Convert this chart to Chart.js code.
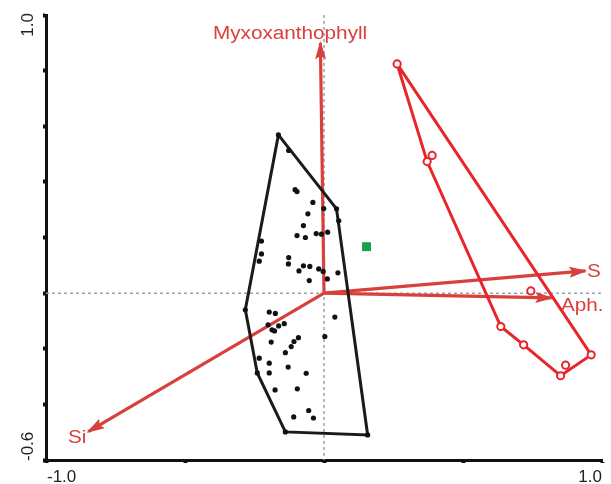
<!DOCTYPE html>
<html>
<head>
<meta charset="utf-8">
<script src="https://cdn.jsdelivr.net/npm/chart.js@4.4.1/dist/chart.umd.min.js"></script>
<style>
  html, body { margin: 0; padding: 0; background: #fff; }
  #wrap { width: 611px; height: 484px; }
</style>
</head>
<body>
<div id="wrap"><canvas id="myChart"></canvas></div>
<script>
// sample scores (black dots)
const sampleX = [-0.127, -0.104, -0.097, -0.040, -0.001, -0.058, 0.053, -0.074, -0.028, -0.009,
  0.013, -0.097, -0.067, -0.225, -0.225, -0.233, -0.127, -0.128, -0.074, -0.051,
  -0.090, -0.019, -0.003, 0.050, 0.012, -0.053, -0.197, -0.175, 0.039, -0.201,
  -0.187, -0.178, -0.163, -0.143, 0.003, -0.190, -0.092, -0.108, -0.118, -0.139,
  -0.233, -0.197, -0.129, -0.197, -0.064, -0.176, -0.096, -0.055, -0.109, -0.038,
  -0.164, 0.045, 0.157, -0.139, -0.240, -0.283];
const sampleY = [0.513, 0.372, 0.365, 0.326, 0.304, 0.285, 0.260, 0.243, 0.214, 0.212,
  0.219, 0.207, 0.200, 0.187, 0.141, 0.115, 0.128, 0.105, 0.098, 0.096,
  0.080, 0.087, 0.078, 0.073, 0.051, 0.045, -0.068, -0.073, -0.086, -0.114,
  -0.132, -0.136, -0.118, -0.110, -0.156, -0.176, -0.160, -0.174, -0.192, -0.214,
  -0.234, -0.252, -0.266, -0.287, -0.288, -0.348, -0.344, -0.422, -0.445, -0.449,
  0.569, 0.303, -0.510, -0.499, -0.287, -0.060];

// envelope of the black group
const hullX = [-0.164, 0.045, 0.157, -0.139, -0.240, -0.283, -0.164];
const hullY = [0.569, 0.303, -0.510, -0.499, -0.287, -0.060, 0.569];

// red group: open circles and envelope
const redX = [0.263, 0.389, 0.371, 0.636, 0.718, 0.851, 0.869, 0.961, 0.744];
const redY = [0.824, 0.495, 0.473, -0.120, -0.186, -0.297, -0.259, -0.222, 0.008];
const redHullX = [0.263, 0.371, 0.636, 0.718, 0.851, 0.961, 0.263];
const redHullY = [0.824, 0.473, -0.120, -0.186, -0.297, -0.222, 0.824];

// green square
const greenX = [0.153];
const greenY = [0.167];

// environmental arrows
const arrowNames = ['Myxoxanthophyll', 'S', 'Aph.', 'Si'];
const arrowX = [-0.013, 0.940, 0.818, -0.848];
const arrowY = [0.899, 0.080, -0.017, -0.498];

// axis tick labels
const xTickValues = [-1, 1];
const xTickLabels = ['-1.0', '1.0'];
const yTickValues = [-0.6, 1.0];
const yTickLabels = ['-0.6', '1.0'];

const arrowColor = '#d9403c';
const groupRed = '#e8252b';

const pts = (xs, ys) => xs.map((x, i) => ({ x: x, y: ys[i] }));

const datasets = [];
arrowNames.forEach((name, i) => {
  datasets.push({
    type: 'line', label: name, isArrow: true,
    data: [{ x: 0, y: 0 }, { x: arrowX[i], y: arrowY[i] }],
    borderColor: arrowColor, borderWidth: 3.2, pointRadius: 0, order: 6
  });
});
datasets.push({
  type: 'line', data: pts(hullX, hullY), borderColor: '#1b1b1b', borderWidth: 3,
  pointRadius: 0, tension: 0, order: 5
});
datasets.push({
  type: 'scatter', data: pts(sampleX, sampleY), backgroundColor: '#111',
  borderWidth: 0, pointRadius: 2.6, order: 4
});
datasets.push({
  type: 'line', data: pts(redHullX, redHullY), borderColor: groupRed, borderWidth: 3,
  pointRadius: 0, tension: 0, order: 3
});
datasets.push({
  type: 'scatter', data: pts(redX, redY), backgroundColor: '#fff',
  borderColor: groupRed, borderWidth: 2, pointRadius: 3.6, order: 2
});
datasets.push({
  type: 'scatter', data: pts(greenX, greenY), backgroundColor: '#15a24b',
  borderWidth: 0, pointStyle: 'rect', pointRadius: 6.3, order: 1
});

const biplotPlugin = {
  id: 'biplot',
  beforeDatasetsDraw(chart) {
    const { ctx, chartArea: a, scales: { x, y } } = chart;
    ctx.save();
    ctx.strokeStyle = '#9aa2ad';
    ctx.lineWidth = 1.5;
    ctx.setLineDash([3, 3]);
    const x0 = x.getPixelForValue(0), y0 = y.getPixelForValue(0);
    ctx.beginPath();
    ctx.moveTo(x0, a.top); ctx.lineTo(x0, a.bottom);
    ctx.moveTo(a.left, y0); ctx.lineTo(a.right, y0);
    ctx.stroke();
    ctx.restore();
  },
  afterDatasetDraw(chart, args) {
    const ds = chart.data.datasets[args.index];
    if (!ds.isArrow) return;
    const { ctx, scales: { x, y } } = chart;
    const x0 = x.getPixelForValue(0), y0 = y.getPixelForValue(0);
    const x1 = x.getPixelForValue(ds.data[1].x), y1 = y.getPixelForValue(ds.data[1].y);
    const ang = Math.atan2(y1 - y0, x1 - x0);
    ctx.save();
    ctx.translate(x1, y1);
    ctx.rotate(ang);
    ctx.fillStyle = arrowColor;
    ctx.beginPath();
    ctx.moveTo(2, 0);
    ctx.lineTo(-16, -5.5);
    ctx.lineTo(-13, 0);
    ctx.lineTo(-16, 5.5);
    ctx.closePath();
    ctx.fill();
    ctx.restore();
  },
  afterDraw(chart) {
    const { ctx, scales: { x, y } } = chart;
    ctx.save();
    // arrow labels, a little wider than plain Arial
    const labelPos = [[213, 38.5], [587, 277], [561, 311], [68, 443]];
    ctx.fillStyle = arrowColor;
    ctx.font = '18px "Liberation Sans", Arial, sans-serif';
    ctx.textAlign = 'left';
    ctx.textBaseline = 'alphabetic';
    arrowNames.forEach((name, i) => {
      ctx.save();
      ctx.translate(labelPos[i][0], labelPos[i][1]);
      ctx.scale(1.15, 1);
      ctx.fillText(name, 0, 0);
      ctx.restore();
    });
    // tick labels
    ctx.fillStyle = '#222';
    ctx.font = '17px "Liberation Sans", Arial, sans-serif';
    xTickValues.forEach((v, i) => {
      const px = x.getPixelForValue(v);
      ctx.textAlign = i === 0 ? 'left' : 'right';
      ctx.fillText(xTickLabels[i], i === 0 ? px + 1 : px, 482);
    });
    yTickValues.forEach((v, i) => {
      const py = y.getPixelForValue(v);
      ctx.save();
      ctx.translate(33, i === 0 ? py + 1 : py - 2);
      ctx.rotate(-Math.PI / 2);
      ctx.textAlign = i === 0 ? 'left' : 'right';
      ctx.fillText(yTickLabels[i], 0, 0);
      ctx.restore();
    });
    ctx.restore();
  }
};

const myChart = document.getElementById('myChart');

new Chart(myChart, {
  type: 'scatter',
  data: { datasets: datasets },
  options: {
    responsive: true,
    maintainAspectRatio: false,
    animation: false,
    devicePixelRatio: 1,
    layout: { padding: { top: 15, right: 9, left: 0, bottom: 0 } },
    plugins: { legend: { display: false }, tooltip: { enabled: false } },
    scales: {
      x: {
        type: 'linear', min: -1, max: 1,
        ticks: { display: false, stepSize: 0.5 },
        grid: { drawOnChartArea: false, drawTicks: true, tickLength: 3, tickWidth: 4, tickColor: '#111' },
        border: { display: true, width: 3, color: '#111' },
        afterFit(scale) { scale.height = 24; }
      },
      y: {
        type: 'linear', min: -0.6, max: 1.0,
        ticks: { display: false, stepSize: 0.2 },
        grid: { drawOnChartArea: false, drawTicks: true, tickLength: 3, tickWidth: 4, tickColor: '#111' },
        border: { display: true, width: 3, color: '#111' },
        afterFit(scale) { scale.width = 46; }
      }
    }
  },
  plugins: [biplotPlugin]
});
</script>
</body>
</html>
